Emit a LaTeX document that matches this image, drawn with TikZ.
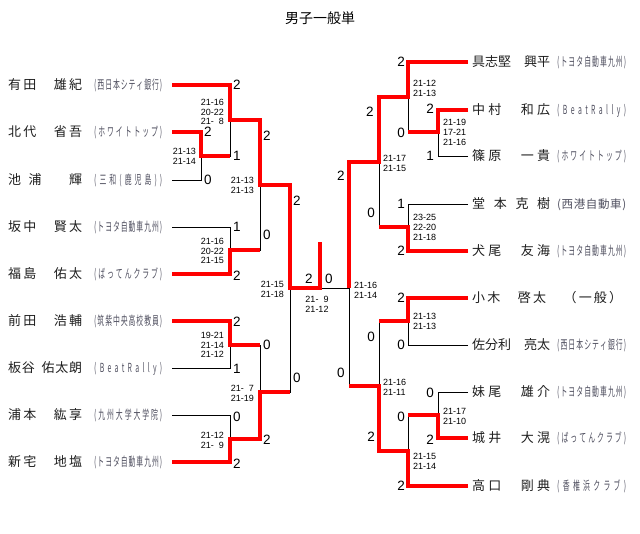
\documentclass[tikz,border=0pt]{standalone}
\usepackage{fontspec}
\usepackage{graphicx}
\newfontfamily\jp{Noto Sans CJK JP}
\newfontfamily\numf{Liberation Sans}
\ExplSyntaxOn
\NewDocumentCommand \spr { m m }
  { \makebox[#1][s]{ \tl_map_inline:nn {#2} { ##1 \hfil } \hfilneg } }
\NewDocumentCommand \sprc { m m }
  { \makebox[#1][s]{ \tl_map_inline:nn {#2} { \scalebox{0.55}[1]{##1} \hfil } \hfilneg } }
\ExplSyntaxOff
\newcommand{\dsp}{\hphantom{0}}
\definecolor{brred}{RGB}{255,0,0}
\definecolor{affc}{RGB}{80,80,96}
\definecolor{namec}{RGB}{30,30,30}
\begin{document}
\begin{tikzpicture}[x=1pt,y=-1pt,
  bk/.style={line width=0.8pt,black},
  rd/.style={line width=3.2pt,brred},
  nm/.style={font=\jp\fontsize{13}{13}\selectfont,text=namec,inner sep=0pt,text height=11.4pt,text depth=1.6pt,anchor=west},
  af/.style={font=\jp\fontsize{12.5}{12.5}\selectfont,text=affc,inner sep=0pt,text height=11pt,text depth=1.5pt,anchor=west},
  sc/.style={font=\numf\fontsize{13.5}{13.5}\selectfont,inner sep=0pt,text height=9.7pt,text depth=0pt},
  sm/.style={font=\numf\fontsize{9}{9.8}\selectfont,inner sep=0pt},
  smL/.style={sm,anchor=east,align=right},
  smR/.style={sm,anchor=west,align=left},
  smC/.style={sm,anchor=center,align=center}]
\useasboundingbox (0,0) rectangle (640,533);
\node[font=\jp\fontsize{14}{14}\selectfont] (title) at (320,18) {男子一般単};
% left players
\node[nm] (nL1) at (8,85) {\spr{74pt}{有田　雄紀}};
\node[af] (fL1) at (94,85) {\sprc{68pt}{(西日本シティ銀行)}};
\node[nm] (nL2) at (8,132) {\spr{74pt}{北代　省吾}};
\node[af] (fL2) at (94,132) {\sprc{68pt}{(ホワイトトップ)}};
\node[nm] (nL3) at (8,180) {\spr{74pt}{池浦　輝}};
\node[af] (fL3) at (94,180) {\sprc{68pt}{(三和(鹿児島))}};
\node[nm] (nL4) at (8,227) {\spr{74pt}{坂中　賢太}};
\node[af] (fL4) at (94,227) {\sprc{68pt}{(トヨタ自動車九州)}};
\node[nm] (nL5) at (8,274) {\spr{74pt}{福島　佑太}};
\node[af] (fL5) at (94,274) {\sprc{68pt}{(ばってんクラブ)}};
\node[nm] (nL6) at (8,321) {\spr{74pt}{前田　浩輔}};
\node[af] (fL6) at (94,321) {\sprc{68pt}{(筑紫中央高校教員)}};
\node[nm] (nL7) at (8,368) {\spr{74pt}{板谷{\hspace{5pt}}佑太朗}};
\node[af] (fL7) at (94,368) {\sprc{68pt}{(BeatRally)}};
\node[nm] (nL8) at (8,415) {\spr{74pt}{浦本　紘享}};
\node[af] (fL8) at (94,415) {\sprc{68pt}{(九州大学大学院)}};
\node[nm] (nL9) at (8,462) {\spr{74pt}{新宅　地塩}};
\node[af] (fL9) at (94,462) {\sprc{68pt}{(トヨタ自動車九州)}};
% right players
\node[nm] (nR1) at (472,62) {\spr{78pt}{具志堅　興平}};
\node[af] (fR1) at (557,62) {\sprc{69pt}{(トヨタ自動車九州)}};
\node[nm] (nR2) at (472,110) {\spr{78pt}{中村　和広}};
\node[af] (fR2) at (557,110) {\sprc{69pt}{(BeatRally)}};
\node[nm] (nR3) at (472,156) {\spr{78pt}{篠原　一貴}};
\node[af] (fR3) at (557,156) {\sprc{69pt}{(ホワイトトップ)}};
\node[nm] (nR4) at (472,204) {\spr{78pt}{堂本克樹}};
\node[af,font=\jp\fontsize{11.5}{11.5}\selectfont] (fR4) at (557,204) {\spr{69pt}{(西港自動車)}};
\node[nm] (nR5) at (472,251) {\spr{78pt}{犬尾　友海}};
\node[af] (fR5) at (557,251) {\sprc{69pt}{(トヨタ自動車九州)}};
\node[nm] (nR6) at (472,298) {\spr{150pt}{小木　啓太　（一般）}};
\node[nm] (nR7) at (472,345) {\spr{78pt}{佐分利　亮太}};
\node[af] (fR7) at (557,345) {\sprc{69pt}{(西日本シティ銀行)}};
\node[nm] (nR8) at (472,392) {\spr{78pt}{妹尾　雄介}};
\node[af] (fR8) at (557,392) {\sprc{69pt}{(トヨタ自動車九州)}};
\node[nm] (nR9) at (472,438) {\spr{78pt}{城井　大滉}};
\node[af] (fR9) at (557,438) {\sprc{69pt}{(ばってんクラブ)}};
\node[nm] (nR10) at (472,486) {\spr{78pt}{高口　剛典}};
\node[af] (fR10) at (557,486) {\sprc{69pt}{(香椎浜クラブ)}};
% coordinates
\coordinate (a1) at (172,85);  \coordinate (a2) at (172,132); \coordinate (a3) at (172,180);
\coordinate (a4) at (172,227); \coordinate (a5) at (172,274); \coordinate (a6) at (172,321);
\coordinate (a7) at (172,368); \coordinate (a8) at (172,415); \coordinate (a9) at (172,462);
\coordinate (mA) at (201,156); \coordinate (mB) at (230,120); \coordinate (mC) at (230,250);
\coordinate (mD) at (260,185); \coordinate (mE) at (230,345); \coordinate (mF) at (230,439);
\coordinate (mG) at (260,392); \coordinate (mH) at (290,288);
\coordinate (fin) at (320,288); \coordinate (win) at (320,242); \coordinate (rfin) at (349,288);
\coordinate (b1) at (468,62);  \coordinate (b2) at (468,110); \coordinate (b3) at (468,156);
\coordinate (b4) at (468,204); \coordinate (b5) at (468,251); \coordinate (b6) at (468,298);
\coordinate (b7) at (468,345); \coordinate (b8) at (468,392); \coordinate (b9) at (468,438);
\coordinate (b10) at (468,486);
\coordinate (nA) at (438,132); \coordinate (nB) at (408,97); \coordinate (nC) at (408,227);
\coordinate (nD) at (379,162); \coordinate (nE) at (408,321); \coordinate (nF) at (438,415);
\coordinate (nG) at (408,451); \coordinate (nH) at (379,386);
% black bracket
\draw[bk] (a1) -| (mB) (a2) -| (mA) (a3) -| (mA) (mA) -| (mB)
  (a4) -| (mC) (a5) -| (mC) (mB) -| (mD) (mC) -| (mD)
  (a6) -| (mE) (a7) -| (mE) (a8) -| (mF) (a9) -| (mF)
  (mE) -| (mG) (mF) -| (mG) (mD) -| (mH) (mG) -| (mH) (mH) -- (rfin);
\draw[bk] (b1) -| (nB) (b2) -| (nA) (b3) -| (nA) (nA) -| (nB)
  (b4) -| (nC) (b5) -| (nC) (nB) -| (nD) (nC) -| (nD)
  (b6) -| (nE) (b7) -| (nE) (b8) -| (nF) (b9) -| (nF)
  (nF) -| (nG) (b10) -| (nG) (nE) -| (nH) (nG) -| (nH)
  (nD) -| (rfin) (nH) -| (rfin);
% red winner paths
\draw[rd] (a1) -| (mB) -| (mD) -| (mH) -- (fin) -- (win);
\draw[rd] (a2) -| (mA) -- (mA -| mB);
\draw[rd] (a5) -| (mC) -- (mC -| mD);
\draw[rd] (a6) -| (mE) -- (mE -| mG);
\draw[rd] (a9) -| (mF) -| (mG) -- (mG -| mH);
\draw[rd] (b1) -| (nB) -| (nD) -| (rfin);
\draw[rd] (b2) -| (nA) -- (nA -| nB);
\draw[rd] (b5) -| (nC) -- (nC -| nD);
\draw[rd] (b6) -| (nE) -- (nE -| nH);
\draw[rd] (b9) -| (nF) -- (nF -| nG);
\draw[rd] (b10) -| (nG) -| (nH) -- (nH -| rfin);
% left game scores
\node[sc] (s1) at (237,85) {2};
\node[sc] (s2) at (208,132) {2};
\node[sc] (s3) at (208,180) {0};
\node[sc] (s4) at (237,156) {1};
\node[sc] (s5) at (267,136) {2};
\node[sc] (s6) at (237,227) {1};
\node[sc] (s7) at (267,235) {0};
\node[sc] (s8) at (237,276) {2};
\node[sc] (s9) at (297,201) {2};
\node[sc] (s10) at (237,322) {2};
\node[sc] (s11) at (267,345) {0};
\node[sc] (s12) at (237,369) {1};
\node[sc] (s13) at (297,378) {0};
\node[sc] (s14) at (237,417) {0};
\node[sc] (s15) at (267,440) {2};
\node[sc] (s16) at (237,464) {2};
\node[sc] (s17) at (309,279) {2};
\node[sc] (s18) at (329,279) {0};
% right game scores
\node[sc] (t1) at (401,62) {2};
\node[sc] (t2) at (370,112) {2};
\node[sc] (t3) at (430,109) {2};
\node[sc] (t4) at (401,133) {0};
\node[sc] (t5) at (430,156) {1};
\node[sc] (t6) at (341,176) {2};
\node[sc] (t7) at (401,204) {1};
\node[sc] (t8) at (371,213) {0};
\node[sc] (t9) at (401,251) {2};
\node[sc] (t10) at (401,298) {2};
\node[sc] (t11) at (371,337) {0};
\node[sc] (t12) at (401,345) {0};
\node[sc] (t13) at (341,373) {0};
\node[sc] (t14) at (430,393) {0};
\node[sc] (t15) at (401,417) {0};
\node[sc] (t16) at (371,437) {2};
\node[sc] (t17) at (430,440) {2};
\node[sc] (t18) at (401,486) {2};
% left set scores
\node[smL] (g1) at (224,112) {21-16\\20-22\\21-\dsp8};
\node[smL] (g2) at (196,156) {21-13\\21-14};
\node[smL] (g3) at (254,185.5) {21-13\\21-13};
\node[smL] (g4) at (224,251) {21-16\\20-22\\21-15};
\node[smL] (g5) at (284,289) {21-15\\21-18};
\node[smC] (g6) at (317,304.5) {21-\dsp9\\21-12};
\node[smL] (g7) at (224,345) {19-21\\21-14\\21-12};
\node[smL] (g8) at (254,393) {21-\dsp7\\21-19};
\node[smL] (g9) at (224,440) {21-12\\21-\dsp9};
% right set scores
\node[smR] (h1) at (413,88) {21-12\\21-13};
\node[smR] (h2) at (443,132.5) {21-19\\17-21\\21-16};
\node[smR] (h3) at (383,163) {21-17\\21-15};
\node[smR] (h4) at (413,227.5) {23-25\\22-20\\21-18};
\node[smR] (h5) at (354,290) {21-16\\21-14};
\node[smR] (h6) at (413,321) {21-13\\21-13};
\node[smR] (h7) at (383,387) {21-16\\21-11};
\node[smR] (h8) at (443,416) {21-17\\21-10};
\node[smR] (h9) at (413,461) {21-15\\21-14};
\end{tikzpicture}
\end{document}
